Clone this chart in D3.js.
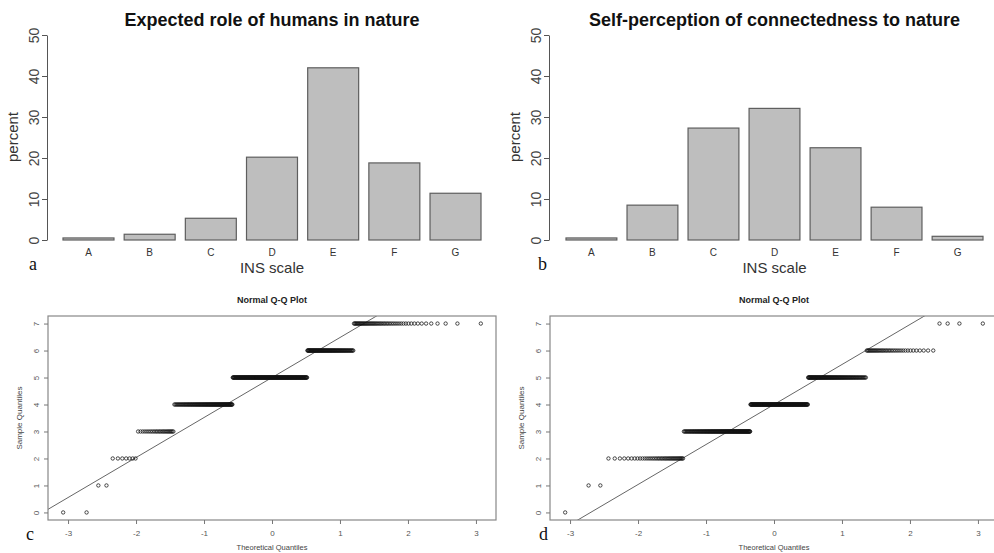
<!DOCTYPE html>
<html>
<head>
<meta charset="utf-8">
<script src="https://cdn.jsdelivr.net/npm/d3@7/dist/d3.min.js"></script>
<style>
  body { margin: 0; background: #fff; }
  text { font-family: "Liberation Sans", Arial, sans-serif; }
</style>
</head>
<body>
<svg id="chart" width="994" height="553"></svg>
<script>
// bar charts (percent per INS category)
const categories = ["A", "B", "C", "D", "E", "F", "G"];
const roleValues = [0.5, 1.4, 5.3, 20.2, 42.0, 18.8, 11.4];
const selfValues = [0.5, 8.5, 27.3, 32.1, 22.5, 8.0, 0.9];
const percentTicks = [0, 10, 20, 30, 40, 50];

const scoreLevels = [0, 1, 2, 3, 4, 5, 6, 7];
const roleCounts = [2, 2, 7, 24, 97, 196, 88, 54];
const selfCounts = [1, 2, 40, 128, 154, 104, 37, 4];
const qqXTicks = [-3, -2, -1, 0, 1, 2, 3];
const qqYTicks = [0, 1, 2, 3, 4, 5, 6, 7];

const svg = d3.select("#chart");
svg.append("rect").attr("width", 994).attr("height", 553).attr("fill", "#fff");

// inverse normal cdf (Acklam)
function qnorm(p) {
  const a = [-39.69683028665376, 220.9460984245205, -275.9285104469687, 138.3577518672690, -30.66479806614716, 2.506628277459239];
  const b = [-54.47609879822406, 161.5858368580409, -155.6989798598866, 66.80131188771972, -13.28068155288572];
  const c = [-0.007784894002430293, -0.3223964580411365, -2.400758277161838, -2.549732539343734, 4.374664141464968, 2.938163982698783];
  const d = [0.007784695709041462, 0.3224671290700398, 2.445134137142996, 3.754408661907416];
  const pl = 0.02425;
  let q, r;
  if (p < pl) {
    q = Math.sqrt(-2 * Math.log(p));
    return (((((c[0]*q+c[1])*q+c[2])*q+c[3])*q+c[4])*q+c[5]) / ((((d[0]*q+d[1])*q+d[2])*q+d[3])*q+1);
  }
  if (p <= 1 - pl) {
    q = p - 0.5; r = q * q;
    return (((((a[0]*r+a[1])*r+a[2])*r+a[3])*r+a[4])*r+a[5])*q / (((((b[0]*r+b[1])*r+b[2])*r+b[3])*r+b[4])*r+1);
  }
  q = Math.sqrt(-2 * Math.log(1 - p));
  return -(((((c[0]*q+c[1])*q+c[2])*q+c[3])*q+c[4])*q+c[5]) / ((((d[0]*q+d[1])*q+d[2])*q+d[3])*q+1);
}

// R prints a plain hyphen for negatives
const plain = d => String(d);

function drawBars(opt) {
  const g = svg.append("g");
  const x = d3.scaleBand().domain(categories).range(opt.xRange).paddingInner(1 / 6).paddingOuter(0);
  const y = d3.scaleLinear().domain([0, 50]).range([240, 35]);

  g.selectAll("rect.bar")
    .data(opt.values)
    .join("rect")
    .attr("class", "bar")
    .attr("x", (d, i) => x(categories[i]))
    .attr("y", d => y(d))
    .attr("width", x.bandwidth())
    .attr("height", d => y(0) - y(d))
    .attr("fill", "#bebebe")
    .attr("stroke", "#5e5e5e")
    .attr("stroke-width", 1.2);

  // y axis, labels parallel to the axis like base R
  const ax = g.append("g")
    .attr("transform", `translate(${opt.axisX},0)`)
    .call(d3.axisLeft(y).tickValues(percentTicks).tickSize(5).tickSizeOuter(0).tickFormat(plain));
  ax.select(".domain").attr("stroke", "#555");
  ax.selectAll(".tick line").attr("stroke", "#555");
  ax.selectAll(".tick text")
    .attr("x", null)
    .attr("transform", "translate(-13,0) rotate(-90)")
    .attr("text-anchor", "middle")
    .attr("dy", "0.35em")
    .attr("font-size", 14)
    .attr("fill", "#444");

  g.selectAll("text.cat")
    .data(categories)
    .join("text")
    .attr("class", "cat")
    .attr("x", d => x(d) + x.bandwidth() / 2)
    .attr("y", 256)
    .attr("text-anchor", "middle")
    .attr("font-size", 10)
    .attr("fill", "#333")
    .text(d => d);

  const mid = (opt.xRange[0] + opt.xRange[1]) / 2;
  g.append("text").attr("x", mid).attr("y", 26).attr("text-anchor", "middle")
    .attr("font-size", 18).attr("font-weight", "bold").attr("fill", "#111").text(opt.title);
  g.append("text").attr("x", mid).attr("y", 273).attr("text-anchor", "middle")
    .attr("font-size", 15).attr("fill", "#333").text("INS scale");
  g.append("text").attr("transform", `translate(${opt.axisX - 29},137) rotate(-90)`)
    .attr("text-anchor", "middle").attr("font-size", 15).attr("fill", "#333").text("percent");
  g.append("text").attr("x", opt.letterX).attr("y", 270)
    .style("font-family", "'Liberation Serif', 'Times New Roman', serif")
    .attr("font-size", 18).attr("fill", "#111").text(opt.letter);
}

function drawQQ(opt) {
  const g = svg.append("g");
  const box = { left: opt.left, right: opt.left + 448, top: 316, bottom: 520 };
  const x = d3.scaleLinear().domain([-3.295, 3.295]).range([box.left, box.right]);
  const y = d3.scaleLinear().domain([-0.28, 7.28]).range([box.bottom, box.top]);

  // sorted sample from counts per level
  const sample = [];
  opt.counts.forEach((c, i) => { for (let k = 0; k < c; k++) sample.push(scoreLevels[i]); });
  const n = sample.length;
  const pts = sample.map((v, i) => ({ q: qnorm((i + 0.5) / n), v }));

  const clipId = "clip" + opt.letter;
  g.append("clipPath").attr("id", clipId).append("rect")
    .attr("x", box.left).attr("y", box.top)
    .attr("width", box.right - box.left).attr("height", box.bottom - box.top);

  // qqline through the quartiles
  const q1 = d3.quantile(sample, 0.25), q3 = d3.quantile(sample, 0.75);
  const slope = (q3 - q1) / (qnorm(0.75) - qnorm(0.25));
  const icpt = q1 - slope * qnorm(0.25);
  g.append("line")
    .attr("clip-path", `url(#${clipId})`)
    .attr("x1", x(-3.4)).attr("y1", y(icpt + slope * -3.4))
    .attr("x2", x(3.4)).attr("y2", y(icpt + slope * 3.4))
    .attr("stroke", "#666").attr("stroke-width", 1);

  g.selectAll("circle")
    .data(pts)
    .join("circle")
    .attr("cx", d => x(d.q))
    .attr("cy", d => y(d.v))
    .attr("r", 1.7)
    .attr("fill", "none")
    .attr("stroke", "#111")
    .attr("stroke-width", 0.75);

  g.append("rect")
    .attr("x", box.left).attr("y", box.top)
    .attr("width", box.right - box.left).attr("height", box.bottom - box.top)
    .attr("fill", "none").attr("stroke", "#888").attr("stroke-width", 1.2);

  const xa = g.append("g").attr("transform", `translate(0,${box.bottom})`)
    .call(d3.axisBottom(x).tickValues(qqXTicks).tickSize(4).tickSizeOuter(0).tickFormat(plain));
  xa.select(".domain").remove();
  xa.selectAll(".tick line").attr("stroke", "#777");
  xa.selectAll(".tick text").attr("y", 10).attr("font-size", 8).attr("fill", "#555");

  const ya = g.append("g").attr("transform", `translate(${box.left},0)`)
    .call(d3.axisLeft(y).tickValues(qqYTicks).tickSize(4).tickSizeOuter(0).tickFormat(plain));
  ya.select(".domain").remove();
  ya.selectAll(".tick line").attr("stroke", "#777");
  ya.selectAll(".tick text")
    .attr("x", null)
    .attr("transform", "translate(-12,0) rotate(-90)")
    .attr("text-anchor", "middle").attr("dy", "0.35em")
    .attr("font-size", 8).attr("fill", "#555");

  const mid = box.left + 224;
  g.append("text").attr("x", mid).attr("y", 303).attr("text-anchor", "middle")
    .attr("font-size", 9).attr("font-weight", "bold").attr("fill", "#222").text("Normal Q-Q Plot");
  g.append("text").attr("x", mid).attr("y", 550).attr("text-anchor", "middle")
    .attr("font-size", 7.5).attr("fill", "#444").text("Theoretical Quantiles");
  g.append("text").attr("transform", `translate(${box.left - 26},418) rotate(-90)`)
    .attr("text-anchor", "middle").attr("font-size", 8).attr("fill", "#444").text("Sample Quantiles");
  g.append("text").attr("x", opt.letterX).attr("y", 540)
    .style("font-family", "'Liberation Serif', 'Times New Roman', serif")
    .attr("font-size", 18).attr("fill", "#111").text(opt.letter);
}

drawBars({ values: roleValues, xRange: [63, 481], axisX: 47, title: "Expected role of humans in nature", letter: "a", letterX: 29 });
drawBars({ values: selfValues, xRange: [566, 983], axisX: 549, title: "Self-perception of connectedness to nature", letter: "b", letterX: 538 });
drawQQ({ counts: roleCounts, left: 48, letter: "c", letterX: 26 });
drawQQ({ counts: selfCounts, left: 550, letter: "d", letterX: 539 });
</script>
</body>
</html>
